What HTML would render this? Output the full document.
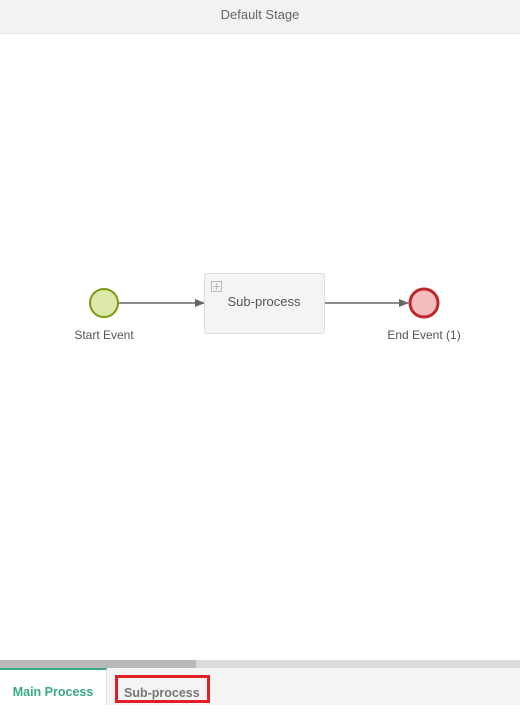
<!DOCTYPE html>
<html><head><style>
body{margin:0;width:520px;height:705px;overflow:hidden;background:#fff;font-family:"Liberation Sans",sans-serif;position:relative}
.hdr{position:absolute;left:0;top:0;width:520px;height:33px;background:#f2f2f2;border-bottom:1px solid #e6e6e6;text-align:center;line-height:30px;font-size:13px;color:#666}
.sb{position:absolute;left:0;top:660px;width:520px;height:8px;background:#dcdcdc}
.th{position:absolute;left:0;top:660px;width:196px;height:8px;background:#b9b9b9}
.tabs{position:absolute;left:0;top:668px;width:520px;height:37px;background:#f4f4f4}
.t1{position:absolute;left:0;top:668px;width:107px;height:37px;background:#fff;border-top:2px solid #3aa882;border-right:1px solid #ddd;box-sizing:border-box;color:#3aa882;font-weight:bold;font-size:12.5px;text-align:center;line-height:44px}
.t2{position:absolute;left:115px;top:675px;width:95px;height:28px;border:3px solid #e41e26;box-sizing:border-box;color:#777;font-weight:bold;font-size:12.5px;line-height:30px;padding-left:6px}
</style></head><body>
<div class="hdr">Default Stage</div>
<svg width="520" height="705" style="position:absolute;left:0;top:0">
<defs><marker id="a" markerWidth="10" markerHeight="10" refX="9" refY="5" orient="auto" markerUnits="userSpaceOnUse"><path d="M0,1 L10,5 L0,9 z" fill="#666"/></marker></defs>
<line x1="119" y1="303" x2="204" y2="303" stroke="#666" stroke-width="1.5" marker-end="url(#a)"/>
<line x1="324" y1="303" x2="408" y2="303" stroke="#666" stroke-width="1.5" marker-end="url(#a)"/>
<circle cx="104" cy="303" r="14" fill="#dbe8a8" stroke="#7a9a10" stroke-width="2"/>
<circle cx="424" cy="303" r="14" fill="#f4bcbc" stroke="#c0262c" stroke-width="3"/>
<rect x="204.5" y="273.5" width="120" height="60" rx="2" fill="#f4f4f4" stroke="#ddd"/>
<rect x="211.5" y="281.5" width="10" height="10" fill="none" stroke="#bbb"/>
<line x1="213" y1="286.5" x2="220" y2="286.5" stroke="#bbb"/><line x1="216.5" y1="283" x2="216.5" y2="290" stroke="#bbb"/>
<text x="264" y="306" font-size="13" fill="#555" text-anchor="middle" font-family="Liberation Sans">Sub-process</text>
<text x="104" y="339" font-size="12" fill="#555" text-anchor="middle" font-family="Liberation Sans">Start Event</text>
<text x="424" y="339" font-size="12" fill="#555" text-anchor="middle" font-family="Liberation Sans">End Event (1)</text>
</svg>
<div class="sb"></div><div class="th"></div>
<div class="tabs"></div>
<div class="t1">Main Process</div>
<div class="t2">Sub-process</div>
</body></html>
